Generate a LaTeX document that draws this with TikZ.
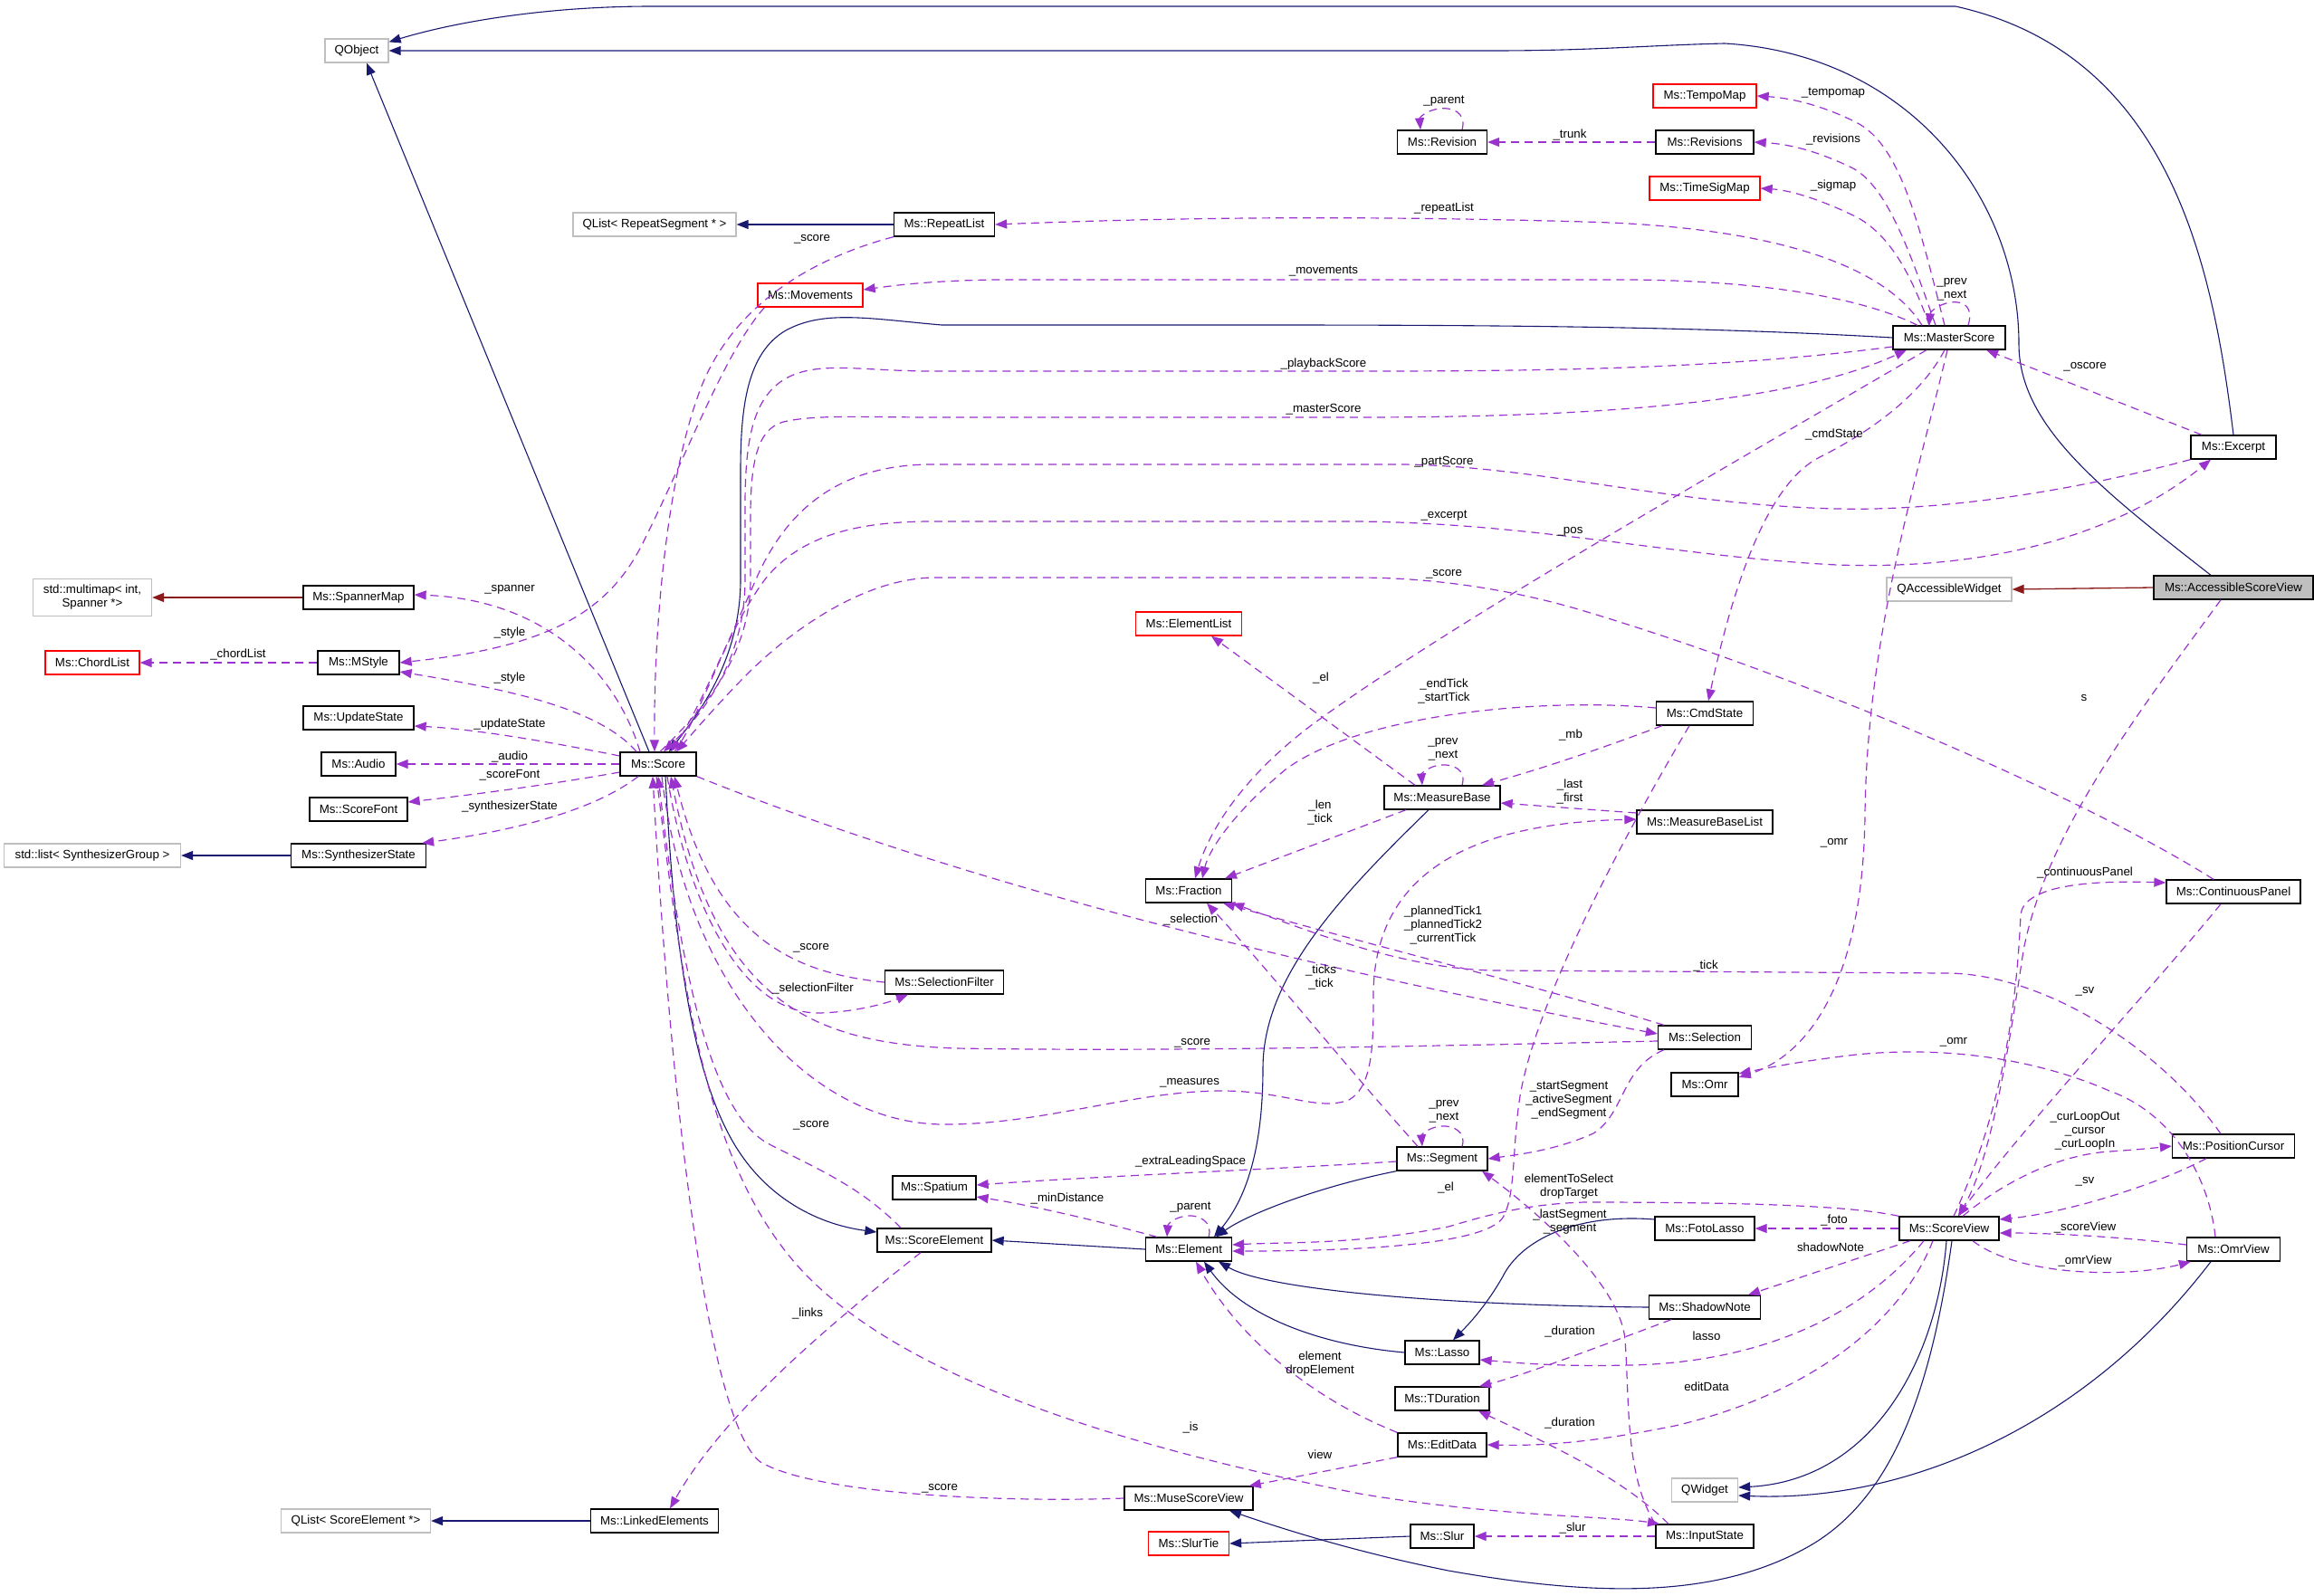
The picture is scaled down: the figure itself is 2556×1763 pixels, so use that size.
\documentclass[tikz,border=0pt]{standalone}
\usepackage{fontspec}
\setmainfont{Liberation Sans}
\usetikzlibrary{arrows.meta}
\definecolor{inhc}{HTML}{191970}
\definecolor{usec}{HTML}{9A32CD}
\definecolor{privc}{HTML}{8B1A1A}
\definecolor{extc}{HTML}{BFBFBF}
\newcommand\dfont{\fontsize{13.3pt}{15pt}\selectfont}
\begin{document}
\begin{tikzpicture}[x=1pt,y=-1pt,
  clsbox/.style={draw=black, line width=1.3pt, fill=white, minimum height=26pt, inner xsep=1pt, inner ysep=0pt, font=\dfont, align=center},
  redbox/.style={clsbox, draw=red},
  extbox/.style={clsbox, draw=extc},
  lbl/.style={font=\dfont, inner sep=0pt, align=center},
  arrtip/.style={-{Triangle[length=13pt,width=10pt]}},
  inher/.style={draw=inhc, line width=1.1pt, arrtip},
  privinh/.style={draw=privc, line width=1.3pt, arrtip},
  usage/.style={draw=usec, line width=1.2pt, dash pattern=on 9pt off 6pt, arrtip},
]
\useasboundingbox (0,0) rectangle (2556,1763);
% nodes
\node[extbox, minimum width=70pt] (qobject) at (394,56) {QObject};
\node[extbox, minimum width=180pt] (qlistrs) at (723,248) {QList< RepeatSegment * >};
\node[clsbox, minimum width=111pt] (repeatlist) at (1043,248) {Ms::RepeatList};
\node[redbox, minimum width=116pt] (movements) at (895,326) {Ms::Movements};
\node[clsbox, minimum width=99pt] (revision) at (1593,157) {Ms::Revision};
\node[clsbox, minimum width=108pt] (revisions) at (1883,157) {Ms::Revisions};
\node[redbox, minimum width=114pt] (tempomap) at (1883,106) {Ms::TempoMap};
\node[redbox, minimum width=122pt] (timesigmap) at (1883,208) {Ms::TimeSigMap};
\node[clsbox, minimum width=124pt] (masterscore) at (2153,373) {Ms::MasterScore};
\node[clsbox, minimum width=94pt] (excerpt) at (2467,494) {Ms::Excerpt};
\node[extbox, minimum width=138pt] (qaccw) at (2153,651) {QAccessibleWidget};
\node[clsbox, fill=extc, minimum width=176pt] (accsv) at (2467,649) {Ms::AccessibleScoreView};
\node[extbox, minimum width=131pt, minimum height=41pt] (multimap) at (102,660) {std::multimap< int,\\Spanner *>};
\node[clsbox, minimum width=122pt] (spannermap) at (396,660) {Ms::SpannerMap};
\node[redbox, minimum width=104pt] (chordlist) at (102,732) {Ms::ChordList};
\node[clsbox, minimum width=90pt] (mstyle) at (396,732) {Ms::MStyle};
\node[clsbox, minimum width=122pt] (updatestate) at (396,793) {Ms::UpdateState};
\node[clsbox, minimum width=82pt] (audio) at (396,844) {Ms::Audio};
\node[clsbox, minimum width=108pt] (scorefont) at (396,894) {Ms::ScoreFont};
\node[clsbox, minimum width=149pt] (synthstate) at (396,945) {Ms::SynthesizerState};
\node[extbox, minimum width=195pt] (stdlist) at (102,945) {std::list< SynthesizerGroup >};
\node[clsbox, minimum width=84pt] (score) at (727,844) {Ms::Score};
\node[redbox, minimum width=117pt] (elementlist) at (1313,689) {Ms::ElementList};
\node[clsbox, minimum width=107pt] (cmdstate) at (1883,788) {Ms::CmdState};
\node[clsbox, minimum width=128pt] (measurebase) at (1593,881) {Ms::MeasureBase};
\node[clsbox, minimum width=150pt] (measurebaselist) at (1883,908) {Ms::MeasureBaseList};
\node[clsbox, minimum width=95pt] (fraction) at (1313,984) {Ms::Fraction};
\node[clsbox, minimum width=131pt] (selectionfilter) at (1043,1085) {Ms::SelectionFilter};
\node[clsbox, minimum width=103pt] (selection) at (1883,1146) {Ms::Selection};
\node[clsbox, minimum width=74pt] (omr) at (1883,1198) {Ms::Omr};
\node[clsbox, minimum width=148pt] (continuouspanel) at (2467,985) {Ms::ContinuousPanel};
\node[clsbox, minimum width=135pt] (positioncursor) at (2467,1266) {Ms::PositionCursor};
\node[clsbox, minimum width=100pt] (segment) at (1593,1280) {Ms::Segment};
\node[clsbox, minimum width=92pt] (spatium) at (1032,1312) {Ms::Spatium};
\node[clsbox, minimum width=126pt] (scoreelement) at (1032,1370) {Ms::ScoreElement};
\node[clsbox, minimum width=95pt] (element) at (1313,1380) {Ms::Element};
\node[clsbox, minimum width=110pt] (fotolasso) at (1883,1357) {Ms::FotoLasso};
\node[clsbox, minimum width=110pt] (scoreview) at (2153,1357) {Ms::ScoreView};
\node[clsbox, minimum width=103pt] (omrview) at (2467,1380) {Ms::OmrView};
\node[clsbox, minimum width=123pt] (shadownote) at (1883,1444) {Ms::ShadowNote};
\node[clsbox, minimum width=82pt] (lasso) at (1593,1494) {Ms::Lasso};
\node[clsbox, minimum width=104pt] (tduration) at (1593,1545) {Ms::TDuration};
\node[clsbox, minimum width=98pt] (editdata) at (1593,1596) {Ms::EditData};
\node[clsbox, minimum width=142pt] (musescoreview) at (1313,1655) {Ms::MuseScoreView};
\node[redbox, minimum width=89pt] (slurtie) at (1313,1705) {Ms::SlurTie};
\node[clsbox, minimum width=70pt] (slur) at (1593,1697) {Ms::Slur};
\node[clsbox, minimum width=108pt] (inputstate) at (1883,1697) {Ms::InputState};
\node[extbox, minimum width=73pt] (qwidget) at (1883,1646) {QWidget};
\node[clsbox, minimum width=141pt] (linkedelements) at (723,1680) {Ms::LinkedElements};
\node[extbox, minimum width=165pt] (qlistse) at (393,1680) {QList< ScoreElement *>};

% inheritance
\draw[inher] (excerpt.north) .. controls (2445,300) and (2400,60) .. (2160,7) -- (720,7) .. controls (600,7) and (500,25) .. ([yshift=-4pt]qobject.north east);
\draw[inher] ([xshift=-25pt]accsv.north) .. controls (2320,540) and (2230,470) .. (2230,380) .. controls (2230,220) and (2110,60) .. (1905,48) .. controls (1820,50) and (1760,56) .. (1650,56) -- (qobject.east);
\draw[privinh] (accsv.west) -- (qaccw.east);
\draw[inher] (masterscore.west) .. controls (1900,362) and (1700,359) .. (1400,359) -- (1040,359) .. controls (960,352) and (910,342) .. (868,365) .. controls (825,390) and (818,450) .. (818,520) -- (818,640) .. controls (818,730) and (770,790) .. ([xshift=12pt]score.north);
\draw[inher] ([xshift=-10pt]score.north) -- ([xshift=11pt]qobject.south);
\draw[inher] (repeatlist.west) -- (qlistrs.east);
\draw[privinh] (spannermap.west) -- (multimap.east);
\draw[inher] (synthstate.west) -- (stdlist.east);
\draw[inher] ([xshift=8pt]score.south) .. controls (740,950) and (750,1150) .. (805,1253) .. controls (840,1320) and (900,1352) .. ([yshift=9pt]scoreelement.west);
\draw[inher] (element.west) -- (scoreelement.east);
\draw[inher] ([xshift=-15pt]measurebase.south) .. controls (1480,990) and (1395,1080) .. (1395,1180) .. controls (1395,1260) and (1380,1320) .. ([xshift=28pt]element.north);
\draw[inher] (segment.south west) .. controls (1460,1310) and (1380,1340) .. ([xshift=30pt]element.north);
\draw[inher] (lasso.west) .. controls (1450,1485) and (1370,1450) .. ([xshift=17pt]element.south);
\draw[inher] (shadownote.west) .. controls (1600,1442) and (1400,1425) .. ([xshift=33pt]element.south);
\draw[inher] ([yshift=10pt]fotolasso.west) .. controls (1740,1340) and (1680,1370) .. (1660,1410) .. controls (1640,1445) and (1620,1465) .. ([xshift=12pt]lasso.north);
\draw[inher] ([xshift=-3pt]scoreview.south) .. controls (2140,1500) and (2070,1635) .. ([yshift=3pt]qwidget.east);
\draw[inher] ([xshift=-25pt]omrview.south) .. controls (2300,1580) and (2100,1660) .. ([yshift=-6pt]qwidget.east);
\draw[inher] ([xshift=3pt]scoreview.south) .. controls (2130,1560) and (2080,1660) .. (2000,1707) .. controls (1900,1765) and (1770,1765) .. (1600,1735) .. controls (1500,1715) and (1420,1690) .. ([xshift=45pt]musescoreview.south);
\draw[inher] (slur.west) -- (slurtie.east);
\draw[inher] (linkedelements.west) -- (qlistse.east);

% usage: MasterScore
\draw[usage] ([xshift=-5pt]masterscore.north) .. controls (2120,250) and (2100,160) .. (2050,135) .. controls (2010,115) and (1975,108) .. (tempomap.east);
\draw[usage] ([xshift=-15pt]masterscore.north) .. controls (2110,280) and (2085,205) .. (2045,185) .. controls (2005,166) and (1975,159) .. (revisions.east);
\draw[usage] ([xshift=-22pt]masterscore.north) .. controls (2110,300) and (2085,255) .. (2045,237) .. controls (2005,218) and (1975,210) .. (timesigmap.east);
\draw[usage] ([xshift=-30pt]masterscore.north) .. controls (2080,290) and (1950,250) .. (1750,245) .. controls (1500,238) and (1300,240) .. (repeatlist.east);
\draw[usage] ([xshift=-35pt]masterscore.north) .. controls (2060,330) and (1950,310) .. (1800,309) -- (1100,309) .. controls (1030,310) and (990,315) .. ([yshift=6pt]movements.east);
\draw[usage] ([xshift=21pt]masterscore.north) .. controls (2180,340) and (2170,332) .. (2155,334) .. controls (2140,336) and (2132,345) .. ([xshift=-22pt]masterscore.north);
\draw[usage] ([yshift=-10pt]masterscore.west) .. controls (1900,408) and (1700,410) .. (1500,410) -- (1030,410) .. controls (950,410) and (905,398) .. (868,418) .. controls (830,440) and (823,490) .. (823,560) -- (823,640) .. controls (823,730) and (775,790) .. ([xshift=6pt]score.north);
\draw[usage] ([xshift=2pt]score.north) .. controls (770,790) and (829,730) .. (829,640) -- (829,570) .. controls (829,500) and (840,470) .. (870,465) .. controls (905,458) and (960,461) .. (1030,461) -- (1500,461) .. controls (1800,461) and (1990,440) .. ([xshift=-47pt]masterscore.south);
\draw[usage] (excerpt.south west) .. controls (2300,540) and (2150,565) .. (2029,562) .. controls (1850,558) and (1700,515) .. (1550,513) -- (1030,513) .. controls (930,513) and (870,560) .. (835,640) .. controls (800,720) and (765,795) .. ([xshift=14pt]score.north);
\draw[usage] ([xshift=18pt]score.north) .. controls (775,790) and (800,700) .. (845,640) .. controls (885,590) and (950,576) .. (1030,576) -- (1500,576) .. controls (1700,578) and (1850,615) .. (2029,624) .. controls (2200,630) and (2340,590) .. ([xshift=-25pt]excerpt.south);
\draw[usage] ([xshift=-22pt]continuouspanel.north) .. controls (2300,880) and (2000,750) .. (1750,675) .. controls (1650,645) and (1560,638) .. (1500,638) -- (1030,638) .. controls (950,640) and (870,700) .. (825,745) .. controls (795,775) and (765,810) .. ([xshift=20pt]score.north);
\draw[usage] ([xshift=-5pt]masterscore.south) .. controls (2120,440) and (2060,480) .. (2010,505) .. controls (1960,530) and (1920,620) .. ([xshift=4pt]cmdstate.north);
\draw[usage] ([xshift=-25pt]masterscore.south) .. controls (1900,520) and (1600,690) .. (1450,800) .. controls (1370,860) and (1335,920) .. ([xshift=7pt]fraction.north);
\draw[usage] ([xshift=-2pt]masterscore.south) .. controls (2120,520) and (2062,700) .. (2060,900) .. controls (2058,1080) and (2000,1165) .. ([yshift=8pt]omr.east);
\draw[usage] ([xshift=-35pt]excerpt.north) -- ([xshift=41pt]masterscore.south);
\draw[usage] (revisions.west) -- (revision.east);
\draw[usage] ([xshift=22pt]revision.north) .. controls (1620,125) and (1605,118) .. (1590,120) .. controls (1575,122) and (1568,130) .. ([xshift=-24pt]revision.north);

% usage: Score
\draw[usage] (repeatlist.south west) .. controls (880,290) and (800,350) .. (770,440) .. controls (735,540) and (722,700) .. ([xshift=-4pt]score.north);
\draw[usage] ([xshift=8pt]movements.south west) .. controls (800,390) and (760,500) .. (710,600) .. controls (670,680) and (600,715) .. (mstyle.east);
\draw[usage] ([xshift=-20pt]score.north) .. controls (680,740) and (600,662) .. ([yshift=3pt]spannermap.east);
\draw[usage] ([xshift=-24pt]score.north) .. controls (660,780) and (550,760) .. ([yshift=-10pt]mstyle.east);
\draw[usage] ([yshift=9pt]score.west) .. controls (600,818) and (520,805) .. ([yshift=-9pt]updatestate.east);
\draw[usage] (score.west) -- (audio.east);
\draw[usage] ([yshift=-9pt]score.west) .. controls (600,868) and (520,878) .. ([yshift=8pt]scorefont.east);
\draw[usage] ([xshift=-22pt]score.south) .. controls (650,900) and (550,920) .. ([xshift=-5pt]synthstate.north east);
\draw[usage] (mstyle.west) -- (chordlist.east);
\draw[usage] (score.south east) .. controls (1100,990) and (1500,1080) .. ([yshift=4pt]selection.west);
\draw[usage] ([yshift=-4pt]selection.west) .. controls (1600,1155) and (1300,1162) .. (1055,1158) .. controls (900,1152) and (790,1110) .. ([xshift=14pt]score.south);
\draw[usage] (selectionfilter.west) .. controls (880,1075) and (790,1040) .. ([xshift=18pt]score.south);
\draw[usage] ([xshift=10pt]score.south) .. controls (760,1000) and (820,1120) .. (905,1119) .. controls (945,1118) and (980,1108) .. ([xshift=-40pt]selectionfilter.south);
\draw[usage] ([xshift=4pt]score.south) .. controls (760,1100) and (900,1240) .. (1040,1242) .. controls (1150,1243) and (1250,1205) .. (1350,1205) .. controls (1420,1205) and (1455,1228) .. (1490,1215) .. controls (1517,1200) and (1517,1150) .. (1517,1100) .. controls (1517,980) and (1600,910) .. ([yshift=3pt]measurebaselist.west);
\draw[usage] ([xshift=-37pt]scoreelement.north) .. controls (950,1310) and (900,1290) .. (848,1263) .. controls (790,1230) and (755,1100) .. (score.south);
\draw[usage] ([xshift=-2pt]score.south) .. controls (755,1100) and (780,1300) .. (896,1414) .. controls (1000,1515) and (1200,1590) .. (1502,1650) .. controls (1650,1675) and (1780,1675) .. ([xshift=-50pt]inputstate.north);
\draw[usage] (musescoreview.west) .. controls (1100,1660) and (900,1650) .. (840,1615) .. controls (780,1570) and (740,1200) .. ([xshift=-6pt]score.south);

% usage: others
\draw[usage] ([xshift=-30pt]measurebase.north) -- ([xshift=25pt]elementlist.south);
\draw[usage] ([xshift=22pt]measurebase.north) .. controls (1620,850) and (1605,844) .. (1592,845) .. controls (1578,846) and (1570,855) .. ([xshift=-22pt]measurebase.north);
\draw[usage] ([xshift=-47pt]cmdstate.south) .. controls (1760,830) and (1700,850) .. ([xshift=44pt]measurebase.north);
\draw[usage] ([yshift=10pt]measurebaselist.west) -- ([yshift=-6pt]measurebase.east);
\draw[usage] ([yshift=6pt]cmdstate.west) .. controls (1700,770) and (1500,790) .. (1420,850) .. controls (1360,900) and (1335,940) .. ([xshift=15pt]fraction.north);
\draw[usage] ([xshift=-40pt]measurebase.south) -- ([xshift=40pt]fraction.north);
\draw[usage] ([xshift=-27pt]segment.north) .. controls (1480,1170) and (1400,1070) .. ([xshift=20pt]fraction.south);
\draw[usage] ([xshift=-45pt]selection.north) .. controls (1700,1090) and (1500,1040) .. ([xshift=38pt]fraction.south);
\draw[usage] ([xshift=-14pt]positioncursor.north) .. controls (2380,1150) and (2250,1075) .. (2150,1075) -- (1650,1072) .. controls (1550,1070) and (1450,1030) .. (fraction.south east);
\draw[usage] ([xshift=-45pt]selection.south) .. controls (1790,1180) and (1795,1230) .. (1760,1252) .. controls (1720,1270) and (1680,1275) .. (segment.east);
\draw[usage] ([xshift=22pt]segment.north) .. controls (1620,1250) and (1605,1243) .. (1592,1244) .. controls (1578,1245) and (1570,1254) .. ([xshift=-22pt]segment.north);
\draw[usage] ([xshift=-17pt]cmdstate.south) .. controls (1790,930) and (1700,1100) .. (1680,1205) .. controls (1670,1260) and (1675,1320) .. (1660,1345) .. controls (1640,1375) and (1500,1382) .. ([yshift=-2pt]element.east);
\draw[usage] (scoreview.north west) .. controls (2050,1333) and (1950,1328) .. (1750,1328) .. controls (1690,1330) and (1650,1340) .. (1600,1355) .. controls (1500,1375) and (1420,1372) .. ([yshift=5pt]element.east);
\draw[usage] (inputstate.north west) .. controls (1795,1630) and (1800,1550) .. (1795,1480) .. controls (1790,1420) and (1700,1340) .. ([xshift=44pt]segment.south);
\draw[usage] ([xshift=-40pt]inputstate.north) .. controls (1790,1630) and (1700,1590) .. ([xshift=40pt]tduration.south);
\draw[usage] ([xshift=-37pt]shadownote.south) .. controls (1760,1490) and (1680,1520) .. ([xshift=41pt]tduration.north);
\draw[usage] (inputstate.west) -- (slur.east);
\draw[usage] (editdata.north west) .. controls (1450,1545) and (1370,1480) .. ([xshift=8pt]element.south);
\draw[usage] (editdata.south west) -- ([xshift=-5pt]musescoreview.north east);
\draw[usage] ([xshift=-18pt]scoreview.south) .. controls (2100,1460) and (2000,1540) .. (1850,1575) .. controls (1750,1595) and (1700,1597) .. (editdata.east);
\draw[usage] ([xshift=-28pt]scoreview.south) .. controls (2060,1450) and (1950,1505) .. (1800,1508) .. controls (1720,1510) and (1670,1505) .. ([yshift=-8pt]lasso.east);
\draw[usage] ([xshift=-43pt]scoreview.south) -- ([xshift=48pt]shadownote.north);
\draw[usage] (scoreview.west) -- (fotolasso.east);
\draw[usage] ([xshift=5pt]scoreview.north) .. controls (2215,1220) and (2228,1100) .. (2232,1010) .. controls (2236,980) and (2300,972) .. ([yshift=10pt]continuouspanel.west);
\draw[usage] ([xshift=-14pt]accsv.south) .. controls (2360,790) and (2260,920) .. (2235,1050) .. controls (2220,1150) and (2200,1280) .. ([xshift=10pt]scoreview.north);
\draw[usage] ([xshift=-14pt]continuouspanel.south) .. controls (2370,1100) and (2230,1250) .. ([xshift=10pt]scoreview.north);
\draw[usage] ([xshift=15pt]scoreview.north) .. controls (2220,1300) and (2280,1275) .. (2330,1272) .. controls (2360,1270) and (2380,1268) .. (positioncursor.west);
\draw[usage] ([xshift=-30pt]positioncursor.south) .. controls (2380,1310) and (2280,1340) .. ([yshift=10pt]scoreview.east);
\draw[usage] ([yshift=5pt]omrview.west) .. controls (2350,1367) and (2270,1362) .. ([yshift=-5pt]scoreview.east);
\draw[usage] ([xshift=26pt]scoreview.south) .. controls (2230,1410) and (2350,1412) .. ([xshift=5pt]omrview.south west);
\draw[usage] ([xshift=-20pt]omrview.north) .. controls (2440,1300) and (2400,1230) .. (2330,1205) .. controls (2250,1170) and (2150,1155) .. (2050,1165) .. controls (1990,1172) and (1950,1180) .. ([yshift=12pt]omr.east);
\draw[usage] ([yshift=-3pt]segment.west) .. controls (1400,1292) and (1200,1300) .. ([yshift=3pt]spatium.east);
\draw[usage] ([xshift=-35pt]element.north) .. controls (1200,1345) and (1130,1330) .. ([yshift=-10pt]spatium.east);
\draw[usage] ([xshift=22pt]element.north) .. controls (1340,1350) and (1325,1342) .. (1312,1343) .. controls (1298,1344) and (1290,1352) .. ([xshift=-24pt]element.north);
\draw[usage] ([xshift=-15pt]scoreelement.south) .. controls (920,1460) and (800,1560) .. ([xshift=17pt]linkedelements.north);

% labels
\node[lbl] (l01) at (2025,103) {\_tempomap};
\node[lbl] (l02) at (2025,154) {\_revisions};
\node[lbl] (l03) at (2025,205) {\_sigmap};
\node[lbl] (l04) at (2156,320) {\_prev\\\_next};
\node[lbl] (l05) at (2303,405) {\_oscore};
\node[lbl] (l06) at (2026,480) {\_cmdState};
\node[lbl] (l07) at (1595,112) {\_parent};
\node[lbl] (l08) at (1734,149) {\_trunk};
\node[lbl] (l09) at (1595,230) {\_repeatList};
\node[lbl] (l10) at (1462,300) {\_movements};
\node[lbl] (l11) at (1462,402) {\_playbackScore};
\node[lbl] (l12) at (1462,452) {\_masterScore};
\node[lbl] (l13) at (1595,510) {\_partScore};
\node[lbl] (l14) at (1595,570) {\_excerpt};
\node[lbl] (l15) at (1734,587) {\_pos};
\node[lbl] (l16) at (1595,634) {\_score};
\node[lbl] (l17) at (897,264) {\_score};
\node[lbl] (l18) at (563,651) {\_spanner};
\node[lbl] (l19) at (563,699) {\_style};
\node[lbl] (l20) at (263,723) {\_chordList};
\node[lbl] (l21) at (563,749) {\_style};
\node[lbl] (l22) at (563,800) {\_updateState};
\node[lbl] (l23) at (563,836) {\_audio};
\node[lbl] (l24) at (563,856) {\_scoreFont};
\node[lbl] (l25) at (563,891) {\_synthesizerState};
\node[lbl] (l26) at (2302,771) {s};
\node[lbl] (l27) at (1459,749) {\_el};
\node[lbl] (l28) at (1595,763) {\_endTick\\\_startTick};
\node[lbl] (l29) at (1735,812) {\_mb};
\node[lbl] (l30) at (1594,828) {\_prev\\\_next};
\node[lbl] (l31) at (1734,874) {\_last\\\_first};
\node[lbl] (l32) at (1458,897) {\_len\\\_tick};
\node[lbl] (l33) at (2026,931) {\_omr};
\node[lbl] (l34) at (2303,964) {\_continuousPanel};
\node[lbl] (l35) at (1315,1016) {\_selection};
\node[lbl] (l36) at (1594,1022) {\_plannedTick1\\\_plannedTick2\\\_currentTick};
\node[lbl] (l37) at (896,1047) {\_score};
\node[lbl] (l38) at (1884,1067) {\_tick};
\node[lbl] (l39) at (1459,1079) {\_ticks\\\_tick};
\node[lbl] (l40) at (898,1092) {\_selectionFilter};
\node[lbl] (l41) at (2303,1095) {\_sv};
\node[lbl] (l42) at (2158,1151) {\_omr};
\node[lbl] (l43) at (1317,1152) {\_score};
\node[lbl] (l44) at (1314,1196) {\_measures};
\node[lbl] (l45) at (1733,1215) {\_startSegment\\\_activeSegment\\\_endSegment};
\node[lbl] (l46) at (1595,1228) {\_prev\\\_next};
\node[lbl] (l47) at (2303,1249) {\_curLoopOut\\\_cursor\\\_curLoopIn};
\node[lbl] (l48) at (896,1243) {\_score};
\node[lbl] (l49) at (1315,1283) {\_extraLeadingSpace};
\node[lbl] (l50) at (2303,1305) {\_sv};
\node[lbl] (l51) at (1733,1311) {elementToSelect\\dropTarget};
\node[lbl] (l52) at (1597,1312) {\_el};
\node[lbl] (l53) at (1179,1324) {\_minDistance};
\node[lbl] (l54) at (1315,1334) {\_parent};
\node[lbl] (l55) at (1734,1350) {\_lastSegment\\\_segment};
\node[lbl] (l56) at (2026,1348) {\_foto};
\node[lbl] (l57) at (2303,1356) {\_scoreView};
\node[lbl] (l58) at (2022,1378) {shadowNote};
\node[lbl] (l59) at (2303,1393) {\_omrView};
\node[lbl] (l60) at (892,1451) {\_links};
\node[lbl] (l61) at (1734,1471) {\_duration};
\node[lbl] (l62) at (1885,1476) {lasso};
\node[lbl] (l63) at (1458,1507) {element\\dropElement};
\node[lbl] (l64) at (1885,1532) {editData};
\node[lbl] (l65) at (1734,1572) {\_duration};
\node[lbl] (l66) at (1315,1577) {\_is};
\node[lbl] (l67) at (1458,1607) {view};
\node[lbl] (l68) at (1038,1644) {\_score};
\node[lbl] (l69) at (1737,1688) {\_slur};
\end{tikzpicture}
\end{document}
